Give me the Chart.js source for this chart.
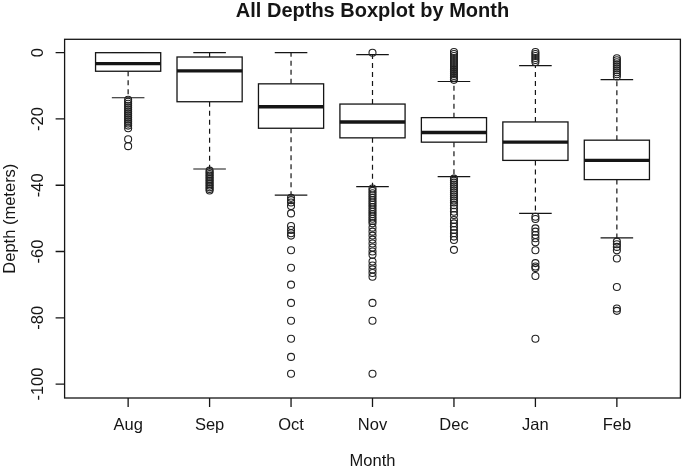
<!DOCTYPE html>
<html><head><meta charset="utf-8">
<script src="https://cdn.jsdelivr.net/npm/chart.js@4"></script>
<style>html,body{margin:0;padding:0;background:#fff}#wrap{width:685px;height:469px}</style>
</head><body><div id="wrap"><canvas id="c" width="685" height="469"></canvas></div>
<script>
const months = ['Aug','Sep','Oct','Nov','Dec','Jan','Feb'];
const lowerWhisker = [-13.6,-35.1,-43.0,-40.4,-37.4,-48.5,-55.9];
const q1           = [-5.6,-14.8,-22.8,-25.7,-27.0,-32.5,-38.3];
const median       = [-3.3,-5.5,-16.3,-20.9,-24.1,-27.0,-32.5];
const q3           = [0.0,-1.3,-9.4,-15.5,-19.6,-20.9,-26.4];
const upperWhisker = [0.0,0.0,0.0,-0.6,-8.7,-3.9,-8.1];

const outAug = [-14.2,-14.8,-15.4,-16.0,-16.6,-17.2,-17.8,-18.4,-19.0,-19.6,-20.2,-20.8,-21.4,-22.0,-22.8,-26.1,-28.2];
const outSep = [-35.6,-36.1,-36.6,-37.1,-37.6,-38.1,-38.6,-39.1,-39.6,-40.1,-40.6,-41.1,-41.6];
const outOct = [-43.8,-44.5,-45.2,-46.3,-48.5,-52.3,-53.5,-54.5,-55.2,-59.6,-64.9,-70.0,-75.5,-80.9,-86.3,-91.8,-96.9];
const outNov = [0.0,-41.0,-41.7,-42.4,-43.1,-43.8,-44.5,-45.2,-45.9,-46.6,-47.3,-48.0,-48.7,-49.4,-50.1,-50.8,-51.5,-52.8,-54.0,-55.2,-56.4,-57.6,-58.8,-60.0,-61.0,-63.0,-64.2,-65.4,-66.5,-67.6,-75.5,-80.9,-96.9];
const outDec = [0.2,-0.4,-1.0,-1.6,-2.2,-2.8,-3.4,-4.0,-4.6,-5.2,-5.8,-6.4,-7.0,-7.6,-8.2,-38.0,-38.6,-39.2,-39.8,-40.4,-41.0,-41.6,-42.2,-42.8,-43.4,-44.0,-44.6,-45.2,-46.0,-47.0,-48.0,-49.0,-50.5,-51.5,-52.5,-53.5,-54.5,-55.5,-56.5,-59.5];
const outJan = [0.2,-0.4,-1.0,-1.6,-2.2,-2.8,-49.5,-50.2,-53.0,-54.0,-55.0,-56.0,-57.2,-59.6,-63.5,-64.5,-65.0,-67.4,-86.3];
const outFeb = [-1.7,-2.3,-2.9,-3.5,-4.1,-4.7,-5.3,-5.9,-6.5,-7.2,-57.0,-57.8,-58.6,-59.6,-62.1,-70.7,-77.2,-77.9];
const outliers = [outAug,outSep,outOct,outNov,outDec,outJan,outFeb];

const yTicks = [0,-20,-40,-60,-80,-100];
const titleText = 'All Depths Boxplot by Month';
const xTitle = 'Month';
const yTitle = 'Depth (meters)';

const pts = [];
outliers.forEach((arr,i)=>arr.forEach(v=>pts.push({x:i+1,y:v})));

const INK = '#151515';
const FONT = '"Liberation Sans", Arial, sans-serif';

const boxPlugin = {
  id:'boxes',
  beforeDatasetsDraw(chart){
    const ctx = chart.ctx, xs = chart.scales.x, ys = chart.scales.y;
    const bw = xs.getPixelForValue(1.4) - xs.getPixelForValue(1);
    const sw = xs.getPixelForValue(1.2) - xs.getPixelForValue(1);
    ctx.save();
    ctx.strokeStyle = INK;
    months.forEach((m,i)=>{
      const cx = xs.getPixelForValue(i+1);
      const yq1 = ys.getPixelForValue(q1[i]), yq3 = ys.getPixelForValue(q3[i]);
      const ylw = ys.getPixelForValue(lowerWhisker[i]), yuw = ys.getPixelForValue(upperWhisker[i]);
      const ym = ys.getPixelForValue(median[i]);
      ctx.lineWidth = 1.2;
      ctx.setLineDash([5,4]);
      ctx.beginPath();
      ctx.moveTo(cx, yq1); ctx.lineTo(cx, ylw);
      if (yuw < yq3 - 0.5){ ctx.moveTo(cx, yq3); ctx.lineTo(cx, yuw); }
      ctx.stroke();
      ctx.setLineDash([]);
      ctx.beginPath();
      ctx.moveTo(cx-sw, ylw); ctx.lineTo(cx+sw, ylw);
      ctx.moveTo(cx-sw, yuw); ctx.lineTo(cx+sw, yuw);
      ctx.stroke();
      ctx.fillStyle = '#fff';
      ctx.fillRect(cx-bw, yq3, 2*bw, yq1-yq3);
      ctx.lineWidth = 1.3;
      ctx.strokeRect(cx-bw, yq3, 2*bw, yq1-yq3);
      ctx.lineWidth = 3.4;
      ctx.beginPath();
      ctx.moveTo(cx-bw, ym); ctx.lineTo(cx+bw, ym);
      ctx.stroke();
    });
    ctx.restore();
  },
  afterDraw(chart){
    const ctx = chart.ctx, xs = chart.scales.x, ys = chart.scales.y, a = chart.chartArea;
    ctx.save();
    ctx.strokeStyle = INK; ctx.fillStyle = INK; ctx.lineWidth = 1.3;
    ctx.strokeRect(a.left, a.top, a.right-a.left, a.bottom-a.top);
    ctx.beginPath();
    months.forEach((m,i)=>{
      const x = xs.getPixelForValue(i+1);
      ctx.moveTo(x, a.bottom); ctx.lineTo(x, a.bottom+9);
    });
    yTicks.forEach(v=>{
      const y = ys.getPixelForValue(v);
      ctx.moveTo(a.left, y); ctx.lineTo(a.left-9, y);
    });
    ctx.stroke();
    ctx.font = '16.5px ' + FONT;
    ctx.textAlign = 'center'; ctx.textBaseline = 'alphabetic';
    months.forEach((m,i)=>{
      ctx.fillText(m, xs.getPixelForValue(i+1), 430);
    });
    yTicks.forEach(v=>{
      ctx.save();
      ctx.translate(43.3, ys.getPixelForValue(v));
      ctx.rotate(-Math.PI/2);
      ctx.fillText(String(v), 0, 0);
      ctx.restore();
    });
    ctx.fillText(xTitle, (a.left+a.right)/2, 466);
    ctx.save();
    ctx.translate(15, (a.top+a.bottom)/2);
    ctx.rotate(-Math.PI/2);
    ctx.fillText(yTitle, 0, 0);
    ctx.restore();
    ctx.font = 'bold 20px ' + FONT;
    ctx.fillText(titleText, (a.left+a.right)/2, 17);
    ctx.restore();
  }
};

new Chart(document.getElementById('c'), {
  type:'scatter',
  data:{datasets:[{
    data: pts,
    pointStyle:'circle',
    pointRadius:3.5,
    pointHoverRadius:3.5,
    pointBorderWidth:1.1,
    borderColor:'#222',
    backgroundColor:'rgba(255,255,255,0)'
  }]},
  options:{
    responsive:false,
    devicePixelRatio:1,
    animation:false,
    events:[],
    layout:{padding:{left:64.6,right:2.6,top:39.3,bottom:71}},
    plugins:{legend:{display:false},tooltip:{enabled:false},title:{display:false}},
    scales:{
      x:{type:'linear',min:0.22,max:7.78,display:false},
      y:{type:'linear',min:-104.2,max:4.04,display:false}
    }
  },
  plugins:[boxPlugin]
});
</script>
</body></html>
